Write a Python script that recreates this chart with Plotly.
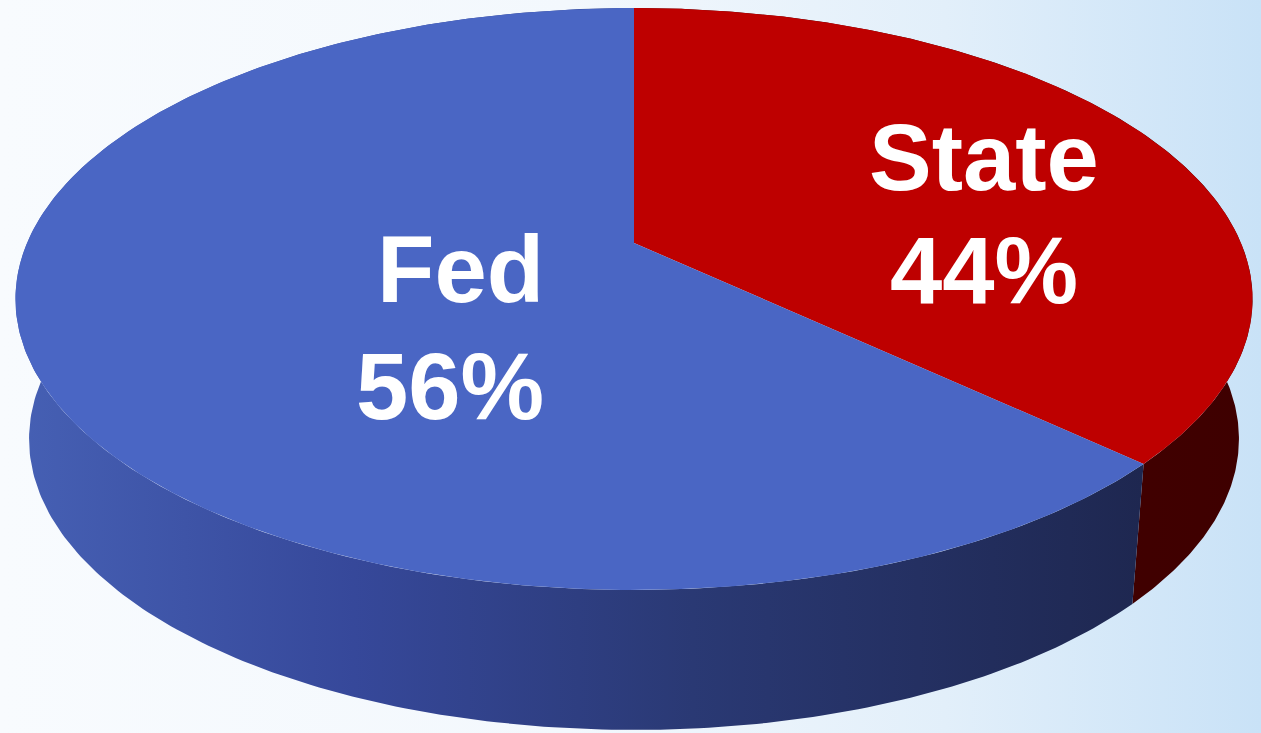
import numpy as np
import plotly.graph_objects as go

# ---- data ----
categories = ["State", "Fed"]          # drawn clockwise from 12 o'clock
label_pct = [44, 56]                   # numbers printed on the slices
drawn_share = [37, 63]                 # share of the circle each slice occupies as drawn
top_colors = ["#BE0000", "#4A66C4"]
side_colors = [
    [[0, "#4A0000"], [1, "#3E0000"]],
    [[0, "#4660B4"], [0.3, "#36489A"], [0.6, "#2A3974"], [1, "#1E2750"]],
]

W, H = 1261, 733
# perspective view of a unit circle (screen px)
CX, CY = 634.0, 243.0
AX, KY, G = 607.0, 280.2, -0.1924
DEPTH, SHRINK = 140.0, 0.978


def top_pt(theta_deg):
    t = np.radians(theta_deg)
    X, Y = np.sin(t), -np.cos(t)
    d = 1 + G * Y
    return CX + AX * X / d, CY + KY * Y / d


def bottom_pt(theta_deg):
    x, y = top_pt(theta_deg)
    return CX + (x - CX) * SHRINK, y + DEPTH


fig = go.Figure()

# background
fig.add_trace(go.Scatter(
    x=[0, W, W, 0, 0], y=[0, 0, H, H, 0], mode="lines", fill="toself",
    line=dict(width=0), hoverinfo="skip",
    fillgradient=dict(type="horizontal", colorscale=[
        [0, "#F8FBFE"], [0.45, "#F3F8FD"], [0.75, "#E2EFFA"], [1, "#C9E2F7"]]),
))

# slice angles from the shares
total = float(sum(drawn_share))
bounds = np.concatenate([[0.0], np.cumsum(drawn_share) / total * 360.0])

# side walls
for i in range(len(categories)):
    a0, a1 = bounds[i], bounds[i + 1]
    th = np.linspace(a0, a1, 300)
    tx, ty = top_pt(th)
    bx, by = bottom_pt(th[::-1])
    xs = np.concatenate([tx, bx, tx[:1]])
    ys = np.concatenate([ty, by, ty[:1]])
    fig.add_trace(go.Scatter(
        x=xs, y=ys, mode="lines", fill="toself", line=dict(width=0),
        fillgradient=dict(type="horizontal", colorscale=side_colors[i]),
        hoverinfo="skip"))

# top faces
for i in range(len(categories)):
    a0, a1 = bounds[i], bounds[i + 1]
    th = np.linspace(a0, a1, 400)
    tx, ty = top_pt(th)
    xs = np.concatenate([[CX], tx, [CX]])
    ys = np.concatenate([[CY], ty, [CY]])
    fig.add_trace(go.Scatter(
        x=xs, y=ys, mode="lines", fill="toself", fillcolor=top_colors[i],
        line=dict(width=0), name=categories[i], hoverinfo="name"))

font = dict(family="Liberation Sans, Arial, sans-serif", size=94, color="white")
labels = [
    (categories[0], 984, 157, "center"),
    (f"{label_pct[0]}%", 984, 270, "center"),
    (categories[1], 546, 269, "right"),
    (f"{label_pct[1]}%", 546, 386, "right"),
]
for txt, x, y, anc in labels:
    fig.add_annotation(x=x, y=y, xref="x", yref="y", text=f"<b>{txt}</b>",
                       showarrow=False, xanchor=anc, yanchor="middle", font=font)

fig.update_layout(
    width=W, height=H, margin=dict(l=0, r=0, t=0, b=0),
    showlegend=False, plot_bgcolor="white", paper_bgcolor="white",
    xaxis=dict(range=[0, W], visible=False, fixedrange=True),
    yaxis=dict(range=[H, 0], visible=False, fixedrange=True),
)
fig.write_html("out.html")
